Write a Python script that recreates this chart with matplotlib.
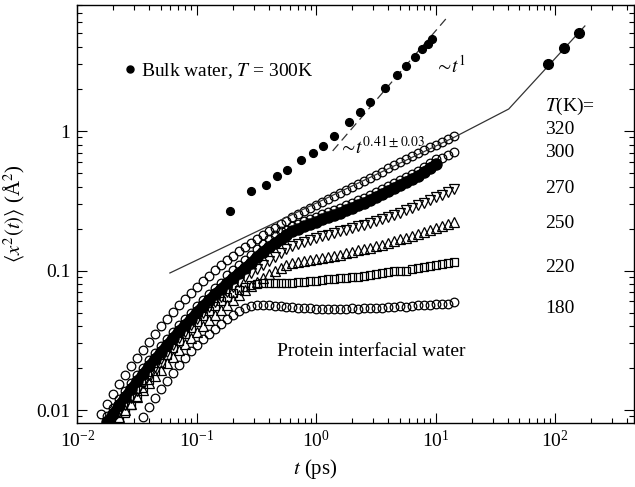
import numpy as np
import matplotlib
matplotlib.use("Agg")
import matplotlib.pyplot as plt
from matplotlib.ticker import LogLocator, FixedLocator, FixedFormatter, NullFormatter, LogFormatterMathtext

plt.rcParams['font.family'] = ['Liberation Serif', 'DejaVu Serif']
plt.rcParams['mathtext.fontset'] = 'stix'

# ---- sampling grid of the protein-water MSD curves (log-spaced times, ps)
t_grid = 10 ** (-1.80 + 0.05 * np.arange(60))

# ---- protein interfacial water MSD (A^2)
y320 = [0.0094, 0.0110, 0.0130, 0.0154, 0.0178, 0.0207, 0.0236, 0.0269, 0.0307, 0.0351,
        0.0400, 0.0449, 0.0505, 0.0566, 0.0625, 0.0690, 0.0762, 0.0841, 0.0914, 0.101,
        0.109, 0.119, 0.127, 0.138, 0.147, 0.157, 0.168, 0.180, 0.192, 0.202,
        0.215, 0.227, 0.242, 0.254, 0.267, 0.281, 0.295, 0.310, 0.326, 0.342,
        0.360, 0.378, 0.397, 0.417, 0.439, 0.460, 0.484, 0.508, 0.543, 0.570,
        0.600, 0.630, 0.662, 0.695, 0.731, 0.767, 0.794, 0.834, 0.877, 0.920]
start320 = 0

y300_open = [0.0091, 0.0104, 0.0120, 0.0137, 0.0157, 0.0178, 0.0200, 0.0229, 0.0256, 0.0288,
             0.0322, 0.0362, 0.0406, 0.0448, 0.0496, 0.0558, 0.0615, 0.0679, 0.0750, 0.0813,
             0.0928, 0.101, 0.109, 0.119, 0.129, 0.143, 0.155, 0.168, 0.179, 0.192,
             0.196, 0.209, 0.215, 0.226, 0.234, 0.242, 0.254, 0.263, 0.272, 0.280,
             0.295, 0.305, 0.320, 0.331, 0.348, 0.366, 0.383, 0.404, 0.424, 0.445,
             0.468, 0.492, 0.516, 0.552, 0.590, 0.629, 0.640, 0.673, 0.707]
start300_open = 1

y300_filled = [0.0082, 0.0094, 0.0109, 0.0124, 0.0142, 0.0161, 0.0181, 0.0207, 0.0232, 0.0261,
               0.0292, 0.0328, 0.0368, 0.0406, 0.0449, 0.0505, 0.0557, 0.0615, 0.0679, 0.0736,
               0.0813, 0.0883, 0.0959, 0.104, 0.113, 0.125, 0.136, 0.147, 0.157, 0.168,
               0.180, 0.192, 0.198, 0.208, 0.215, 0.223, 0.234, 0.242, 0.250, 0.258,
               0.272, 0.281, 0.295, 0.305, 0.320, 0.337, 0.353, 0.372, 0.390, 0.410,
               0.431, 0.453, 0.475, 0.508, 0.543, 0.579]
start300_filled = 1

y270 = [0.0086, 0.0097, 0.0109, 0.0122, 0.0137, 0.0156, 0.0178, 0.0203, 0.0232, 0.0260,
        0.0292, 0.0328, 0.0362, 0.0407, 0.0449, 0.0496, 0.0547, 0.0594, 0.0646, 0.0702,
        0.0761, 0.0827, 0.0898, 0.0960, 0.1025, 0.1095, 0.117, 0.125, 0.1335, 0.143,
        0.150, 0.155, 0.160, 0.165, 0.171, 0.177, 0.180, 0.186, 0.192, 0.195,
        0.202, 0.208, 0.212, 0.219, 0.226, 0.234, 0.242, 0.250, 0.258, 0.271,
        0.281, 0.295, 0.305, 0.320, 0.336, 0.348, 0.365, 0.384]
start270 = 2

y250 = [0.0079, 0.0089, 0.0100, 0.0110, 0.0124, 0.0139, 0.0156, 0.0175, 0.0194, 0.0217,
        0.0240, 0.0269, 0.0297, 0.0328, 0.0362, 0.0400, 0.0442, 0.0480, 0.0521, 0.0566,
        0.0614, 0.0667, 0.0725, 0.0774, 0.0827, 0.0884, 0.0944, 0.0992, 0.104, 0.1095,
        0.113, 0.115, 0.117, 0.119, 0.121, 0.123, 0.125, 0.127, 0.129, 0.1335,
        0.136, 0.140, 0.143, 0.145, 0.150, 0.152, 0.1575, 0.163, 0.168, 0.171,
        0.177, 0.183, 0.189, 0.195, 0.202, 0.208, 0.215, 0.223]
start250 = 2

y220 = [0.0083, 0.0095, 0.0109, 0.0124, 0.0144, 0.0164, 0.0190, 0.0217, 0.0248, 0.0278,
        0.0312, 0.0351, 0.0387, 0.0427, 0.0472, 0.0513, 0.0557, 0.0604, 0.0646, 0.0690,
        0.0725, 0.0761, 0.0787, 0.0800, 0.0813, 0.0813, 0.0813, 0.0820, 0.0813, 0.0813,
        0.0827, 0.0827, 0.0841, 0.0835, 0.0855, 0.0869, 0.0869, 0.0884, 0.0884, 0.0898,
        0.0898, 0.0913, 0.0928, 0.0944, 0.0960, 0.0975, 0.0992, 0.1000, 0.0992, 0.1025,
        0.1042, 0.1059, 0.1077, 0.1095, 0.1113, 0.1132, 0.1151]
start220 = 3

y180 = [0.0089, 0.0105, 0.0122, 0.0141, 0.0161, 0.0184, 0.0210, 0.0236, 0.0265, 0.0292,
        0.0323, 0.0351, 0.0381, 0.0413, 0.0449, 0.0480, 0.0513, 0.0539, 0.0557, 0.0566,
        0.0566, 0.0566, 0.0557, 0.0557, 0.0547, 0.0547, 0.0539, 0.0539, 0.0539, 0.0530,
        0.0530, 0.0530, 0.0530, 0.0530, 0.0530, 0.0539, 0.0530, 0.0539, 0.0539, 0.0539,
        0.0539, 0.0547, 0.0547, 0.0557, 0.0547, 0.0557, 0.0566, 0.0566, 0.0566, 0.0575,
        0.0575, 0.0575, 0.0594]
start180 = 7

# ---- bulk water, T = 300 K
bulk_t = [0.189, 0.283, 0.376, 0.470, 0.566, 0.741, 0.940, 1.132, 1.40, 1.88,
          2.31, 2.80, 3.74, 4.72, 5.61, 6.67, 7.64, 8.57, 9.26]
bulk_y = [0.267, 0.373, 0.408, 0.478, 0.523, 0.617, 0.699, 0.777, 0.921, 1.154,
          1.375, 1.614, 2.03, 2.52, 2.93, 3.39, 3.87, 4.21, 4.56]
bulk_long_t = [86.5, 118, 157]
bulk_long_y = [3.02, 3.94, 5.04]

# ---- guide lines
fit_t = [0.0594, 14.4, 40.8, 177]
fit_y = [0.0960, 0.906, 1.438, 5.66]
lin_t = [1.37, 12.6]
lin_y = [0.72, 6.6]

temps = ["320", "300", "270", "250", "220", "180"]


def seg(start, ys):
    return t_grid[start:start + len(ys)], ys


fig = plt.figure(figsize=(6.35, 4.87), dpi=100)
ax = fig.add_axes([0.122, 0.1314, 0.876, 0.8583])

open_kw = dict(linestyle='none', mfc='none', mec='black', mew=0.9)
ax.plot(*seg(start180, y180), marker='o', ms=6.2, **open_kw)
ax.plot(*seg(start220, y220), marker='s', ms=5.6, **open_kw)
ax.plot(*seg(start250, y250), marker='^', ms=6.6, **open_kw)
ax.plot(*seg(start270, y270), marker='v', ms=6.6, **open_kw)
tf, yf = seg(start300_filled, y300_filled)
ax.plot(*seg(start300_open, y300_open), marker='o', ms=6.2, **open_kw)
ax.plot(tf, yf, color='black', lw=7, marker='o', ms=8, mfc='black', mec='black',
        solid_capstyle='round')
ax.plot(*seg(start320, y320), marker='o', ms=6.2, **open_kw)

ax.plot(fit_t, fit_y, color='#333333', lw=0.9)
ax.plot(lin_t, lin_y, color='#333333', lw=0.9, dashes=(7, 4))
bulk_handle, = ax.plot(bulk_t, bulk_y, 'o', color='black', ms=5.6)
ax.plot(bulk_long_t, bulk_long_y, 'o', color='black', ms=7)

ax.set_xscale('log')
ax.set_yscale('log')
ax.set_xlim(0.01, 454)
ax.set_ylim(0.00807, 8.0)

ax.xaxis.set_major_locator(LogLocator(base=10, numticks=10))
ax.xaxis.set_major_formatter(LogFormatterMathtext())
ax.xaxis.set_minor_locator(LogLocator(base=10, subs=np.arange(2, 10), numticks=20))
ax.xaxis.set_minor_formatter(NullFormatter())
ax.yaxis.set_major_locator(FixedLocator([0.01, 0.1, 1]))
ax.yaxis.set_major_formatter(FixedFormatter(['0.01', '0.1', '1']))
ax.yaxis.set_minor_locator(LogLocator(base=10, subs=np.arange(2, 10), numticks=20))
ax.yaxis.set_minor_formatter(NullFormatter())

ax.tick_params(which='both', direction='in', top=True, right=True, width=0.8)
ax.tick_params(which='major', length=7, labelsize=14, pad=5)
ax.tick_params(which='minor', length=3.5)
for s in ax.spines.values():
    s.set_linewidth(1.0)

ax.set_xlabel(r'$t$ (ps)', fontsize=15)
ax.xaxis.set_label_coords(0.427, -0.082)
ax.set_ylabel(r'$\langle x^2(t)\rangle$ (Å$^2$)', fontsize=15)
ax.yaxis.set_label_coords(-0.09, 0.5)

leg = ax.legend([bulk_handle], [r'Bulk water, $T$ = 300K'], loc='center left',
                bbox_to_anchor=(0.0836, 0.842), frameon=False, fontsize=14,
                handlelength=0.6, handletextpad=0.3, borderpad=0, borderaxespad=0,
                markerscale=0.9)

ax.text(0.642, 0.856, r'$\sim\!t^{1}$', transform=ax.transAxes, fontsize=14,
        ha='left', va='center')
ax.text(0.470, 0.662, r'$\sim\!t^{0.41\pm0.03}$', transform=ax.transAxes, fontsize=14,
        ha='left', va='center')
ax.text(0.840, 0.758, r'$T$(K)=', transform=ax.transAxes, fontsize=14,
        ha='left', va='center')
label_y = [0.701, 0.646, 0.562, 0.478, 0.373, 0.275]
for lab, yy in zip(temps, label_y):
    ax.text(0.840, yy, lab, transform=ax.transAxes, fontsize=14, ha='left', va='center')
ax.text(0.3585, 0.170, 'Protein interfacial water', transform=ax.transAxes,
        fontsize=14, ha='left', va='center')

fig.savefig('out.png', dpi=100)
